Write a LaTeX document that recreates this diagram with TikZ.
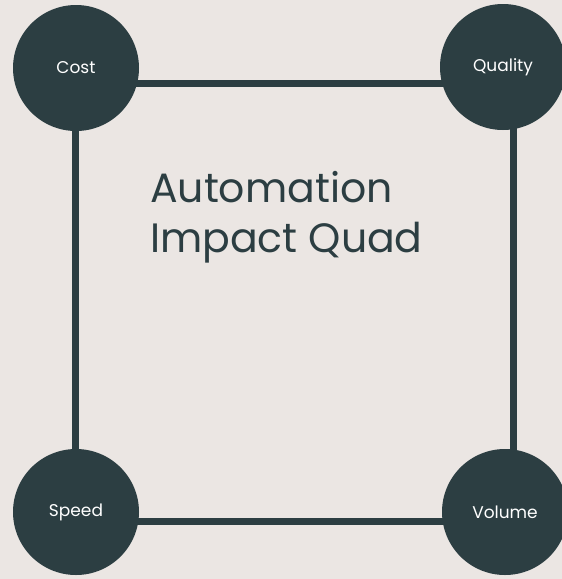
\documentclass[tikz,border=0pt]{standalone}
\usepackage{fontspec}
\setmainfont{Poppins}
\definecolor{bg}{RGB}{235,230,227}
\definecolor{ink}{RGB}{44,62,66}
\begin{document}
\begin{tikzpicture}[x=1pt,y=-1pt,
  hub/.style={circle,fill=ink,minimum size=126pt,inner sep=0pt,text=white,font=\fontsize{17}{19}\selectfont},
  edge/.style={draw=ink,line width=7pt}]
\fill[bg] (0,0) rectangle (562,579);
\useasboundingbox (0,0) rectangle (562,579);
\coordinate (tl) at (75,83);
\coordinate (tr) at (513,83);
\coordinate (br) at (513,521);
\coordinate (bl) at (75,521);
\draw[edge] (tl) -- (tr) -- (br) -- (bl) -- cycle;
\node[hub] (cost) at (76,68) {Cost};
\node[hub] (quality) at (503,67) {Quality};
\node[hub] (speed) at (76,512) {Speed};
\node[hub] (volume) at (505,512) {Volume};
\node[anchor=north west,inner sep=0pt,text=ink,align=left,font=\fontsize{41}{50}\selectfont] (title) at (150,171) {Automation\\Impact Quad};
\end{tikzpicture}
\end{document}
